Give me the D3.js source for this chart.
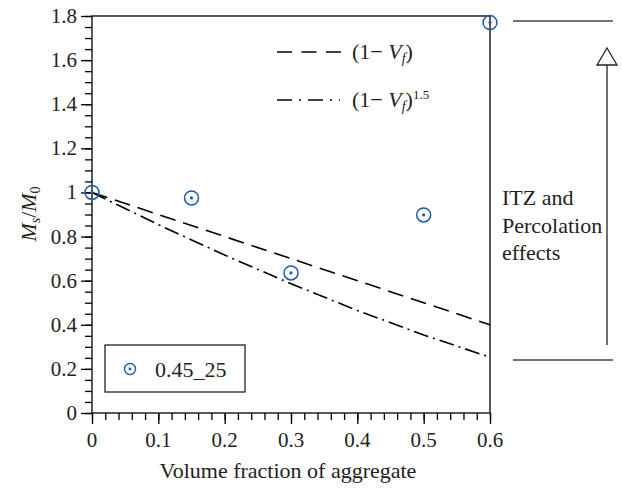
<!DOCTYPE html>
<html><head><meta charset="utf-8">
<script src="https://cdn.jsdelivr.net/npm/d3@7"></script>
<style>body{margin:0;background:#fff;} svg text{font-family:"Liberation Serif","DejaVu Serif",serif;}</style>
</head><body>
<svg id="c" width="622" height="489"></svg>
<script>
const xValues = [0, 0.15, 0.3, 0.5, 0.6];
const yValues = [1.0, 0.975, 0.635, 0.898, 1.77];
const seriesName = "0.45_25";
const linearX = [0, 0.6];
const linearY = [1.0, 0.4];
const powX = [0, 0.1, 0.2, 0.3, 0.4, 0.5, 0.6];
const powY = [1.0, 0.854, 0.716, 0.586, 0.465, 0.354, 0.253];
const xTicks = [0, 0.1, 0.2, 0.3, 0.4, 0.5, 0.6];
const yTicks = [0, 0.2, 0.4, 0.6, 0.8, 1, 1.2, 1.4, 1.6, 1.8];

const svg = d3.select("#c");
const x = d3.scaleLinear().domain([0, 0.6]).range([92, 490]);
const y = d3.scaleLinear().domain([0, 1.8]).range([413, 16]);
const blue = "#1a5cb0";
const fs = 22;
const tfs = 21;
const serif = "Liberation Serif";
const fmt = d3.format("~g");

// frame
svg.append("rect").attr("x", x(0)).attr("y", y(1.8)).attr("width", x(0.6)-x(0)).attr("height", y(0)-y(1.8))
  .attr("fill", "none").attr("stroke", "#000").attr("stroke-width", 1.3);

// axes (ticks via d3.axis)
const xMinor = d3.range(0, 0.6001, 0.02);
const yMinor = d3.range(0, 1.8001, 0.05);
const gx = svg.append("g").attr("transform", `translate(0,${y(0)})`)
  .call(d3.axisBottom(x).tickValues(xMinor).tickSize(7).tickFormat(() => ""));
const gx2 = svg.append("g").attr("transform", `translate(0,${y(0)})`)
  .call(d3.axisBottom(x).tickValues(xTicks).tickSize(11).tickFormat(() => ""));
const gy = svg.append("g").attr("transform", `translate(${x(0)},0)`)
  .call(d3.axisLeft(y).tickValues(yMinor).tickSize(7).tickFormat(() => ""));
const gy2 = svg.append("g").attr("transform", `translate(${x(0)},0)`)
  .call(d3.axisLeft(y).tickValues(yTicks).tickSize(11).tickFormat(() => ""));
[gx, gx2, gy, gy2].forEach(g => {
  g.select(".domain").remove();
  g.selectAll(".tick line").attr("stroke", "#000").attr("stroke-width", 1.3);
});

// tick labels
svg.append("g").selectAll("text").data(xTicks).join("text")
  .attr("x", d => x(d)).attr("y", 447).attr("text-anchor", "middle")
  .attr("font-family", serif).attr("font-size", tfs).attr("fill", "#222").text(d => fmt(d));
svg.append("g").selectAll("text").data(yTicks).join("text")
  .attr("x", 77).attr("y", d => y(d) + 7).attr("text-anchor", "end")
  .attr("font-family", serif).attr("font-size", tfs).attr("fill", "#222").text(d => fmt(d));

// axis titles
svg.append("text").attr("x", 288).attr("y", 478).attr("text-anchor", "middle").attr("font-family", serif).attr("font-size", fs).attr("fill", "#222")
  .text("Volume fraction of aggregate");
const yt = svg.append("text").attr("transform", "translate(36,214) rotate(-90)").attr("text-anchor", "middle")
  .attr("font-family", serif).attr("font-size", fs).attr("fill", "#222").attr("font-style", "italic");
yt.append("tspan").text("M");
yt.append("tspan").attr("font-size", 14).attr("dy", 4).text("s");
yt.append("tspan").attr("dy", -4).attr("font-style", "normal").text("/");
yt.append("tspan").text("M");
yt.append("tspan").attr("font-size", 14).attr("dy", 4).attr("font-style", "normal").text("0");

// model lines
const line = d3.line().x(d => x(d[0])).y(d => y(d[1]));
svg.append("path").datum(linearX.map((v, i) => [v, linearY[i]])).attr("d", line)
  .attr("fill", "none").attr("stroke", "#000").attr("stroke-width", 1.6).attr("stroke-dasharray", "16,8");
svg.append("path").datum(powX.map((v, i) => [v, powY[i]])).attr("d", line)
  .attr("fill", "none").attr("stroke", "#000").attr("stroke-width", 1.6).attr("stroke-dasharray", "15,5,2,5");

// points
const pts = svg.append("g");
xValues.forEach((v, i) => {
  pts.append("circle").attr("cx", x(v)).attr("cy", y(yValues[i])).attr("r", 7)
    .attr("fill", "none").attr("stroke", blue).attr("stroke-width", 1.5);
  pts.append("circle").attr("cx", x(v)).attr("cy", y(yValues[i])).attr("r", 1.6).attr("fill", blue);
});

// line legend
const lg = svg.append("g");
lg.append("line").attr("x1", 277).attr("x2", 342).attr("y1", 52).attr("y2", 52)
  .attr("stroke", "#000").attr("stroke-width", 1.6).attr("stroke-dasharray", "15,9.5");
lg.append("line").attr("x1", 277).attr("x2", 340).attr("y1", 100).attr("y2", 100)
  .attr("stroke", "#000").attr("stroke-width", 1.6).attr("stroke-dasharray", "15,7,2,7");
function vfLabel(yy, sup) {
  const t = lg.append("text").attr("x", 352).attr("y", yy).attr("font-family", serif).attr("font-size", fs).attr("fill", "#222");
  t.append("tspan").text("(1− ");
  t.append("tspan").attr("font-style", "italic").text("V");
  t.append("tspan").attr("font-style", "italic").attr("font-size", 14).attr("dy", 4).text("f");
  t.append("tspan").attr("dy", -4).text(")");
  if (sup) t.append("tspan").attr("font-size", 13).attr("dy", -8).text(sup);
}
vfLabel(59, null);
vfLabel(107, "1.5");

// series legend
svg.append("rect").attr("x", 105).attr("y", 345).attr("width", 140).attr("height", 47)
  .attr("fill", "#fff").attr("stroke", "#222").attr("stroke-width", 1.3);
svg.append("circle").attr("cx", 130).attr("cy", 369).attr("r", 5.5).attr("fill", "none").attr("stroke", blue).attr("stroke-width", 1.4);
svg.append("circle").attr("cx", 130).attr("cy", 369).attr("r", 1.4).attr("fill", blue);
svg.append("text").attr("x", 155).attr("y", 377).attr("font-family", serif).attr("font-size", fs).attr("fill", "#222").text(seriesName);

// annotation
const an = svg.append("g");
an.append("line").attr("x1", 513).attr("x2", 613).attr("y1", 21).attr("y2", 21).attr("stroke", "#444").attr("stroke-width", 1.3);
an.append("line").attr("x1", 513).attr("x2", 613).attr("y1", 360).attr("y2", 360).attr("stroke", "#444").attr("stroke-width", 1.3);
an.append("line").attr("x1", 607).attr("x2", 607).attr("y1", 345).attr("y2", 64).attr("stroke", "#222").attr("stroke-width", 1.3);
an.append("path").attr("d", "M607,48 L617,65 L597,65 Z").attr("fill", "#fff").attr("stroke", "#222").attr("stroke-width", 1.3);
["ITZ and", "Percolation", "effects"].forEach((s, i) => {
  an.append("text").attr("x", 502).attr("y", 205 + i * 27.5).attr("font-family", serif).attr("font-size", fs).attr("fill", "#222").text(s);
});
</script>
</body></html>
